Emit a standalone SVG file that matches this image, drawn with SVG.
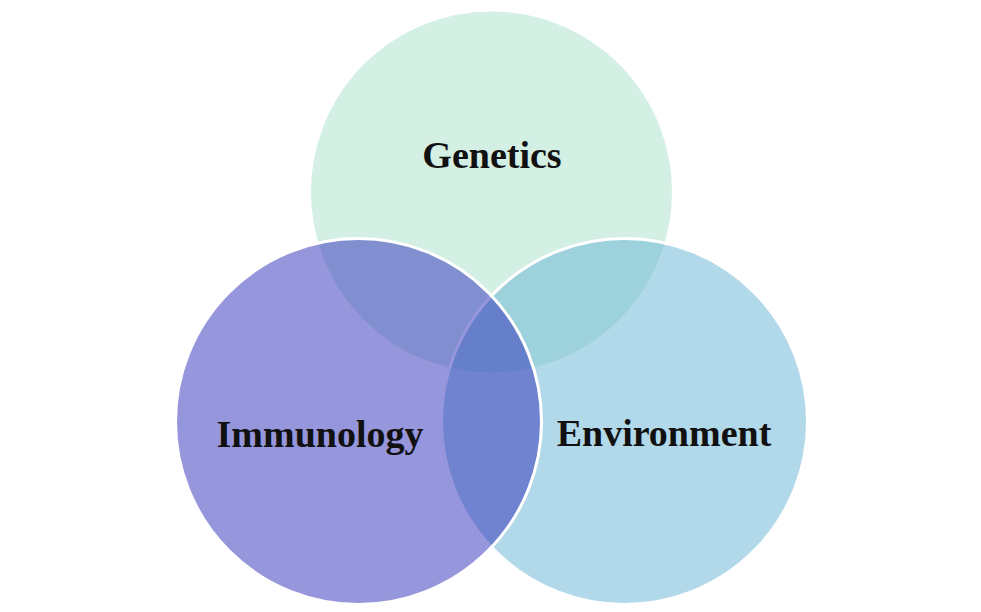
<svg xmlns="http://www.w3.org/2000/svg" width="981" height="612" viewBox="0 0 981 612">
<style>
.c{stroke:#fff;stroke-width:3;fill-opacity:0.5}
.t{font-family:"Liberation Serif","Times New Roman",serif;font-weight:bold;font-size:38px;fill:#111;text-anchor:middle}
</style>
<rect width="981" height="612" fill="#fff"/>
<g id="genetics">
<circle class="c" cx="491.5" cy="192" r="182" fill="rgb(169,223,201)"/>
</g>
<g id="environment">
<circle class="c" cx="624.5" cy="421.5" r="183" fill="rgb(101,179,211)"/>
</g>
<g id="immunology">
<circle class="c" cx="358.5" cy="421.5" r="183" fill="rgb(45,45,185)"/>
</g>
<g id="labels">
<text class="t" x="492" y="168">Genetics</text>
<text class="t" x="320" y="447">Immunology</text>
<text class="t" x="664" y="446">Environment</text>
</g>
<g id="connectors"/>
</svg>
